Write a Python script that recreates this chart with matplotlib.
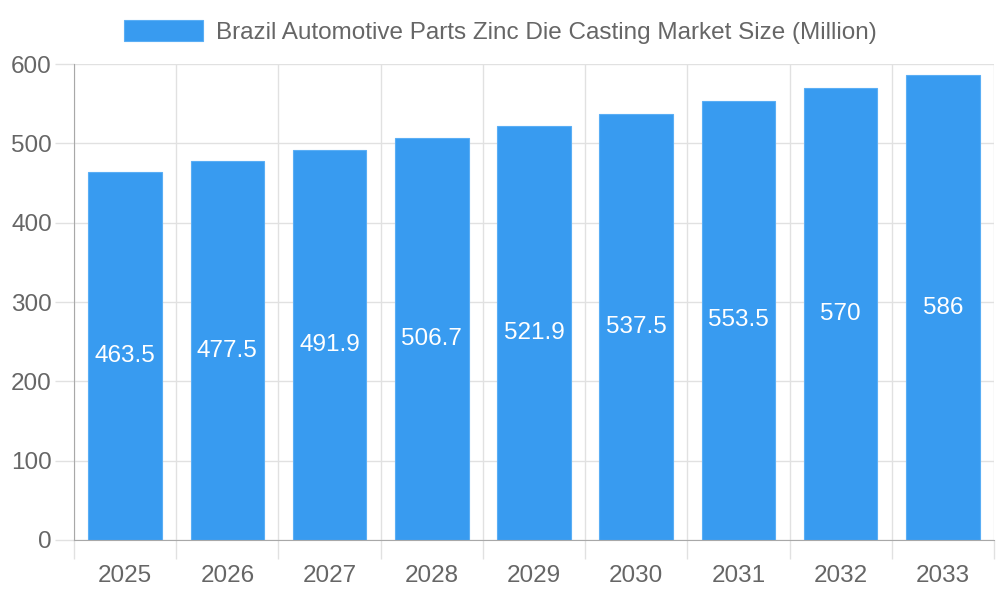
import matplotlib.pyplot as plt
import matplotlib.patches as mpatches

years = ["2025", "2026", "2027", "2028", "2029", "2030", "2031", "2032", "2033"]
market_size = [463.5, 477.5, 491.9, 506.7, 521.9, 537.5, 553.5, 570, 586]
value_labels = ["463.5", "477.5", "491.9", "506.7", "521.9", "537.5", "553.5", "570", "586"]
series_name = "Brazil Automotive Parts Zinc Die Casting Market Size (Million)"

plt.rcParams['font.family'] = ['Liberation Sans', 'DejaVu Sans']
bar_color = "#389bf0"
text_gray = "#666666"
grid_gray = "#e1e1e1"
axis_gray = "#a8a8a8"
fsize = 17.5

fig = plt.figure(figsize=(10, 6), dpi=100)
ax = fig.add_axes([0.074, 0.1, 0.92, 0.7933])

x = list(range(len(years)))
bars = ax.bar(x, market_size, width=0.72, color=bar_color, edgecolor="#5aaef5",
              linewidth=0.8, zorder=3)

for rect, lab in zip(bars, value_labels):
    ax.text(rect.get_x() + rect.get_width() / 2, rect.get_height() / 2, lab,
            ha="center", va="center", color="white", fontsize=fsize, zorder=4)

ax.set_xlim(-0.5, len(years) - 0.5)
ax.set_ylim(0, 600)
ax.set_yticks(range(0, 601, 100))

# category boundaries for vertical grid + tick marks
ax.set_xticks([i - 0.5 for i in range(len(years) + 1)])
ax.set_xticklabels([])
ax.set_xticks(x, minor=True)
ax.set_xticklabels(years, minor=True)
ax.tick_params(axis="x", which="major", length=14, color=grid_gray, width=1)
ax.tick_params(axis="x", which="minor", length=0, pad=18, labelsize=fsize, labelcolor=text_gray)
ax.tick_params(axis="y", length=14, color=grid_gray, width=1, pad=2,
               labelsize=fsize, labelcolor=text_gray)

ax.grid(True, which="major", color=grid_gray, linewidth=1, zorder=0)
for side in ["top", "right"]:
    ax.spines[side].set_visible(False)
ax.spines["left"].set_color(axis_gray)
ax.spines["bottom"].set_color(axis_gray)
ax.spines["left"].set_zorder(5)
ax.spines["bottom"].set_zorder(5)

handle = mpatches.Patch(facecolor=bar_color, edgecolor="#5aaef5", linewidth=0.8)
fig.legend([handle], [series_name], loc="center", bbox_to_anchor=(0.5, 0.947),
           frameon=False, fontsize=fsize, labelcolor=text_gray,
           handlelength=3.25, handleheight=0.95, handletextpad=0.53)

fig.savefig("out.png", dpi=100)
